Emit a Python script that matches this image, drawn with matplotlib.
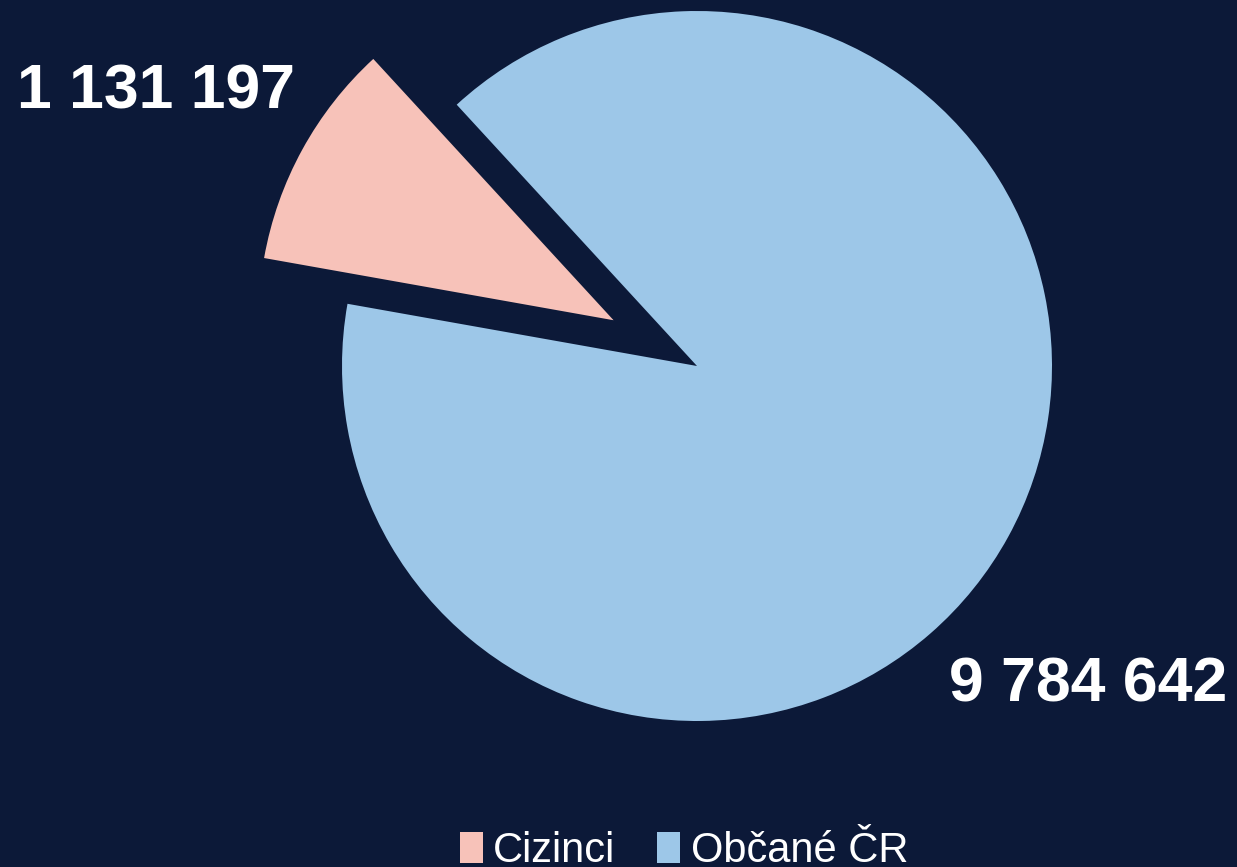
import matplotlib.pyplot as plt
from matplotlib.patches import Patch

labels = ['Cizinci', 'Občané ČR']
values = [1131197, 9784642]
value_text = ['1 131 197', '9 784 642']
colors = ['#f7c2b9', '#9dc7e8']
bg = '#0c1938'

plt.rcParams['font.family'] = ['Liberation Sans', 'DejaVu Sans']

fig = plt.figure(figsize=(12.37, 8.67), dpi=100, facecolor=bg)
ax = fig.add_axes([0, 0, 1, 1])
ax.set_facecolor(bg)

ax.pie(values, colors=colors, explode=[0.268, 0], startangle=132.6,
       counterclock=True, radius=1, wedgeprops=dict(linewidth=0))

# radius 1 = 355 px, centre at (697, 366) px from top-left
r = 355.0
ax.set_xlim(-697 / r, (1237 - 697) / r)
ax.set_ylim(-(867 - 366) / r, 366 / r)
ax.set_aspect('equal')
ax.axis('off')

fig.text(0.126, 0.894, value_text[0], color='white', fontsize=45,
         fontweight='bold', ha='center', va='center')
fig.text(0.880, 0.210, value_text[1], color='white', fontsize=45,
         fontweight='bold', ha='center', va='center')

handles = [Patch(facecolor=c, edgecolor='none') for c in colors]
fig.legend(handles, labels, loc='lower center', bbox_to_anchor=(0.553, -0.048),
           ncol=2, frameon=False, fontsize=30, labelcolor='white',
           handlelength=0.55, handleheight=0.75, handletextpad=0.25,
           columnspacing=1.0)

fig.savefig('out.png', dpi=100, facecolor=bg)
